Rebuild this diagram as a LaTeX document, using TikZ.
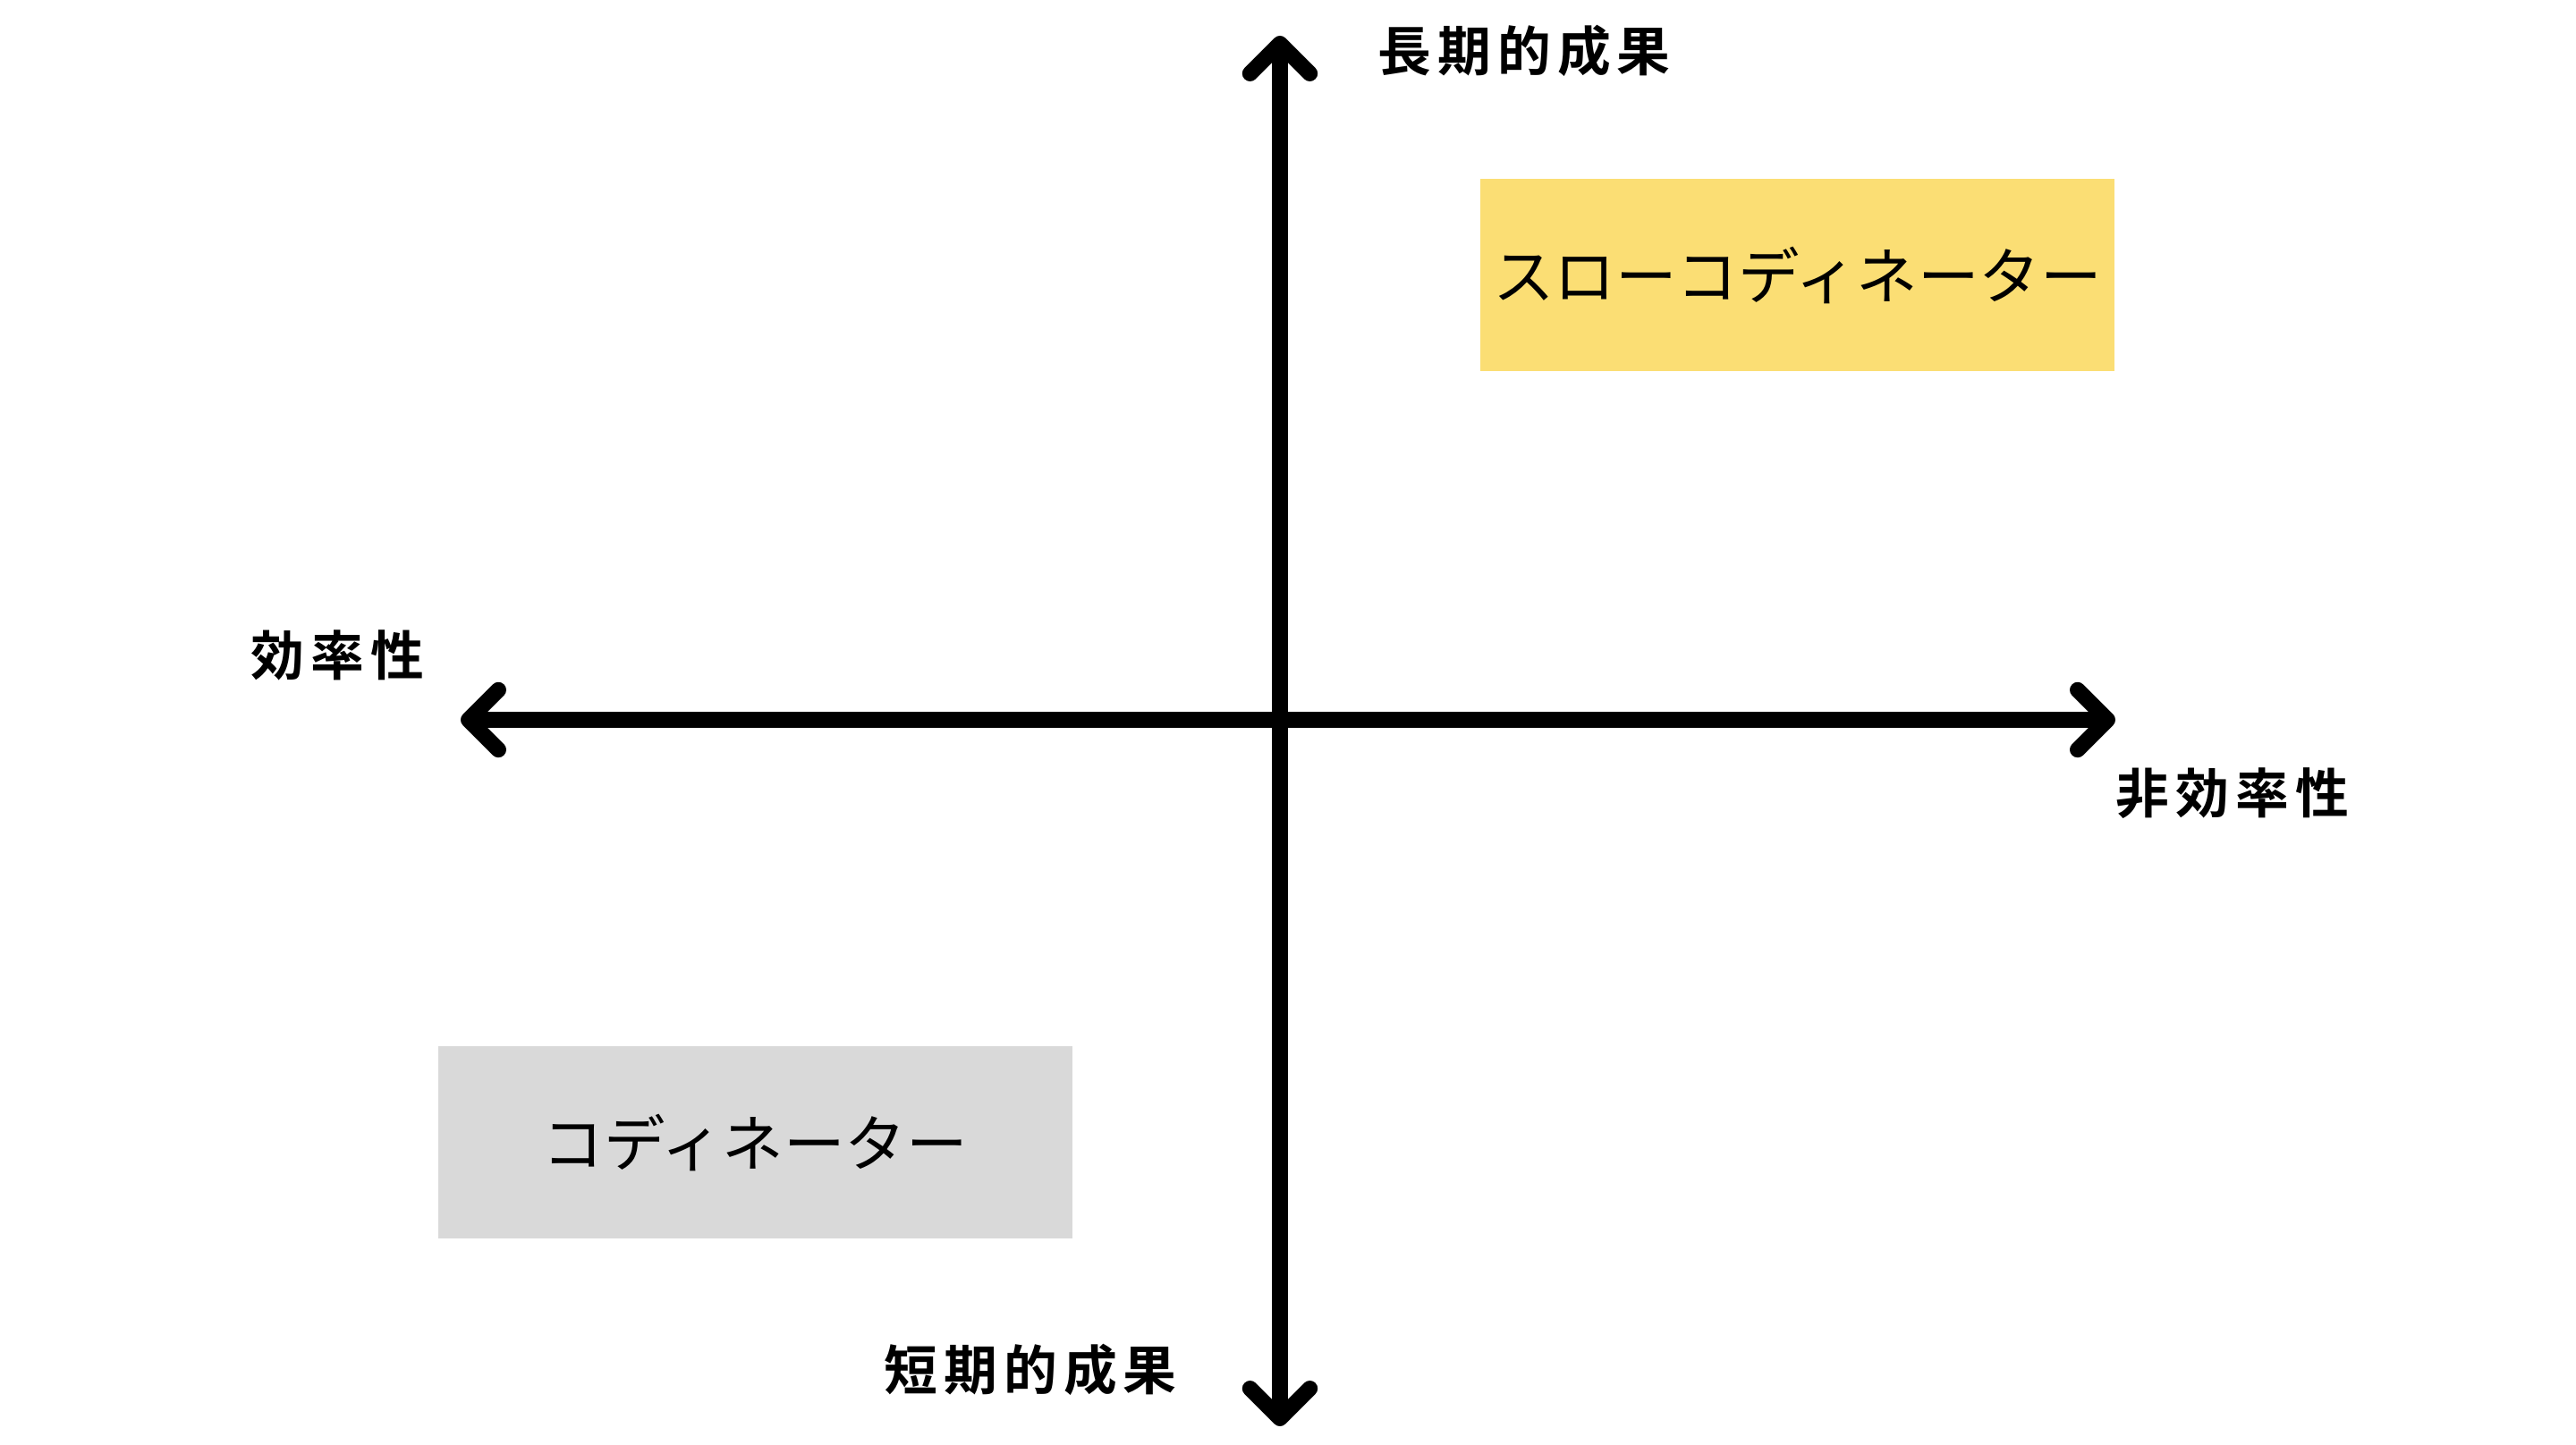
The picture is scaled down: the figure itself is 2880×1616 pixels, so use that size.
\documentclass[tikz,border=0pt]{standalone}
\usepackage{fontspec}
\setmainfont{Noto Sans CJK JP}
\newfontfamily\jpbold[LetterSpace=12]{Noto Sans CJK JP Bold}
\usetikzlibrary{arrows.meta}
\definecolor{kiiro}{HTML}{FBDE74}
\definecolor{haiiro}{HTML}{D9D9D9}
\tikzset{
  jiku/.style={line width=5pt, {Straight Barb[round,length=9.5pt,width=19pt]}-{Straight Barb[round,length=9.5pt,width=19pt]}},
  hako/.style={minimum width=7.09cm, minimum height=2.15cm, inner sep=0pt, font=\fontsize{19.5}{23}\selectfont},
  midashi/.style={inner sep=0pt, font=\jpbold\fontsize{17}{20}\selectfont}
}
\begin{document}
\begin{tikzpicture}[x=0.01cm, y=-0.01cm]
    \useasboundingbox (0,0) rectangle (2880,1616);

    % 軸の端点
    \coordinate (ue) at (1431,40);
    \coordinate (shita) at (1431,1595);
    \coordinate (hidari) at (515,805);
    \coordinate (migi) at (2365,805);

    % 座標軸
    \draw[jiku] (shita) -- (ue);
    \draw[jiku] (hidari) -- (migi);

    % 軸ラベル
    \node[midashi] (chouki) at (1704,57) {長期的成果};
    \node[midashi] (tanki) at (1152,1532) {短期的成果};
    \node[midashi] (kouritsu) at (377,733) {効率性};
    \node[midashi] (hikouritsu) at (2496,887) {非効率性};

    % 象限の箱
    \node[hako, fill=kiiro] (slow) at (2009.5,307.5) {スローコディネーター};
    \node[hako, fill=haiiro] (coord) at (844.5,1277.5) {コディネーター};
\end{tikzpicture}
\end{document}
